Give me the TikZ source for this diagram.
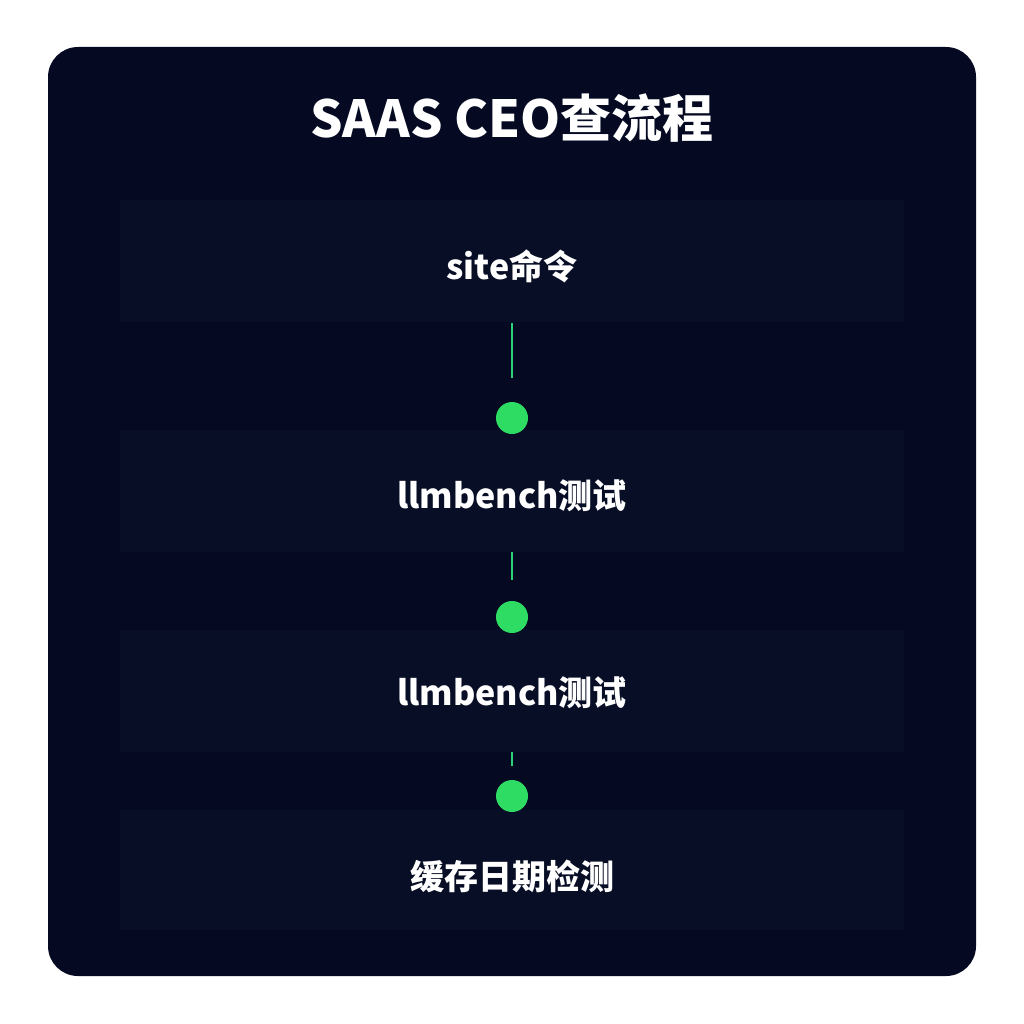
\documentclass[tikz,border=0pt]{standalone}
\usepackage{fontspec}
\setmainfont{Noto Sans CJK SC}
\begin{document}
\begin{tikzpicture}[x=1pt,y=-1pt,
  lbl/.style={text=white,font=\fontsize{34}{40}\selectfont\bfseries},
  band/.style={fill=bandc},
  dot/.style={circle,fill=dotc,minimum size=32pt,inner sep=0pt},
  conn/.style={draw=linec,line width=2.5pt}]
\definecolor{bg}{HTML}{050A22}
\definecolor{bandc}{HTML}{080E26}
\definecolor{dotc}{HTML}{2EDB63}
\definecolor{linec}{HTML}{2FD07A}
\useasboundingbox (0,0) rectangle (1024,1024);
\fill[white] (0,0) rectangle (1024,1024);
\fill[bg,rounded corners=30pt] (48,47) rectangle (976,976);
\fill[band] (120,200) rectangle (904,322);
\fill[band] (120,430) rectangle (904,552);
\fill[band] (120,630) rectangle (904,752);
\fill[band] (120,810) rectangle (904,930);
\node[text=white,font=\fontsize{51}{58}\selectfont\bfseries] (title) at (512,118) {SAAS CEO查流程};
\node[lbl] (n1) at (512,266) {site命令};
\node[lbl] (n2) at (512,496) {llmbench测试};
\node[lbl] (n3) at (512,693) {llmbench测试};
\node[lbl] (n4) at (512,876) {缓存日期检测};
\node[dot] (d1) at (512,418) {};
\node[dot] (d2) at (512,617) {};
\node[dot] (d3) at (512,796) {};
\coordinate (a1) at (512,323); \coordinate (b1) at (512,378);
\coordinate (a2) at (512,552); \coordinate (b2) at (512,580);
\coordinate (a3) at (512,752); \coordinate (b3) at (512,766);
\draw[conn] (a1) -- (b1);
\draw[conn] (a2) -- (b2);
\draw[conn] (a3) -- (b3);
\end{tikzpicture}
\end{document}
